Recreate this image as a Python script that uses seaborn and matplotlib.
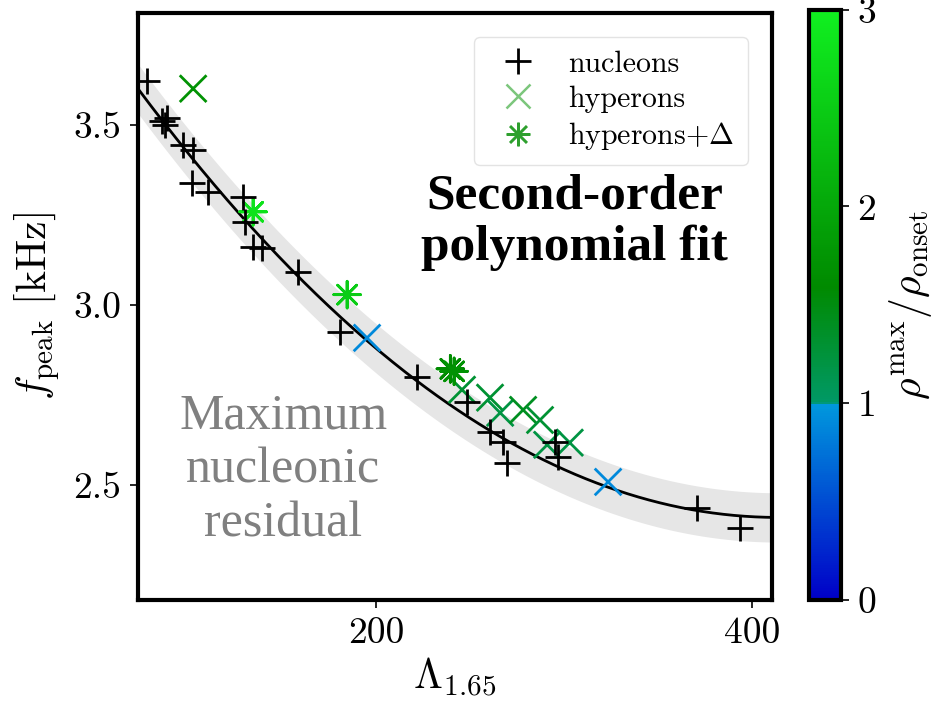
import numpy as np
import pandas as pd
import matplotlib
matplotlib.use("Agg")
import matplotlib.pyplot as plt
import seaborn as sns
from matplotlib.colors import LinearSegmentedColormap, Normalize
from matplotlib.lines import Line2D
from matplotlib.cm import ScalarMappable

# ---- data ----
nuc_lambda = [78.2, 86.2, 88.8, 87.8, 97.3, 102.7, 102.1, 110.6, 129.3, 130.3, 134.6, 139.4,
              158.5, 180.9, 221.8, 248.4, 260.6, 267.6, 269.7, 295.2, 296.8, 370.7, 393.6]
nuc_fpeak = [3.62, 3.511, 3.519, 3.50, 3.444, 3.431, 3.339, 3.314, 3.30, 3.231, 3.161, 3.158,
             3.092, 2.925, 2.80, 2.731, 2.647, 2.619, 2.561, 2.619, 2.578, 2.436, 2.381]

hyp_lambda = [102.7, 195.2, 245.7, 260.6, 266.0, 278.2, 287.2, 291.0, 303.0, 323.4]
hyp_fpeak = [3.60, 2.908, 2.764, 2.742, 2.70, 2.708, 2.68, 2.611, 2.617, 2.508]
hyp_ratio = [1.7, 0.9, 1.3, 1.3, 1.2, 1.4, 1.3, 1.2, 1.2, 0.9]

hd_lambda = [134.6, 184.6, 239.5, 241.5]
hd_fpeak = [3.258, 3.028, 2.822, 2.815]
hd_ratio = [2.8, 2.5, 1.6, 1.7]

x_ticks = [200, 400]
y_ticks = [2.5, 3.0, 3.5]
cbar_ticks = [0, 1, 2, 3]

# ---- style ----
sns.set_style("white")
plt.rcParams["font.family"] = ["serif"]
plt.rcParams["font.serif"] = ["cmr10", "DejaVu Serif"]
plt.rcParams["mathtext.fontset"] = "cm"
plt.rcParams["axes.formatter.use_mathtext"] = True
plt.rcParams["text.color"] = "black"
plt.rcParams["axes.labelcolor"] = "black"
plt.rcParams["xtick.color"] = "black"
plt.rcParams["ytick.color"] = "black"
plt.rcParams["axes.edgecolor"] = "black"

cmap = LinearSegmentedColormap.from_list(
    "rho",
    [(0.0, "#0000c8"), (0.333, "#0099dd"), (0.3334, "#009966"),
     (0.53, "#008a00"), (1.0, "#10f020")])
norm = Normalize(0, 3)

fig = plt.figure(figsize=(9.34, 7.08), dpi=100)
ax = fig.add_axes([0.1478, 0.1525, 0.6788, 0.8291])
cax = fig.add_axes([0.866, 0.1525, 0.034, 0.834])

xlim = (73.4, 410.6)
ylim = (2.18, 3.81)

# second-order polynomial fit to the nucleonic points
coef = np.polyfit(nuc_lambda, nuc_fpeak, 2)
resid = np.max(np.abs(np.array(nuc_fpeak) - np.polyval(coef, nuc_lambda)))
xf = np.linspace(xlim[0], xlim[1], 300)
yf = np.polyval(coef, xf)
ax.fill_between(xf, yf - resid, yf + resid, color="#e6e6e6", lw=0, zorder=0)
sns.lineplot(x=xf, y=yf, ax=ax, color="black", lw=2, zorder=1)

df_n = pd.DataFrame({"L": nuc_lambda, "f": nuc_fpeak})
df_h = pd.DataFrame({"L": hyp_lambda, "f": hyp_fpeak, "r": hyp_ratio})
df_d = pd.DataFrame({"L": hd_lambda, "f": hd_fpeak, "r": hd_ratio})

ms = 370
sns.scatterplot(data=df_n, x="L", y="f", ax=ax, marker="+", color="black", s=ms,
                linewidth=2.0, legend=False, zorder=3)
sns.scatterplot(data=df_h, x="L", y="f", hue="r", palette=cmap, hue_norm=norm, ax=ax,
                marker="x", s=ms, linewidth=2.0, legend=False, zorder=2)
sns.scatterplot(data=df_d, x="L", y="f", hue="r", palette=cmap, hue_norm=norm, ax=ax,
                marker=(8, 2, 0), s=ms, linewidth=2.0, legend=False, zorder=2)

ax.set_xlim(*xlim)
ax.set_ylim(*ylim)
ax.set_xticks(x_ticks)
ax.set_yticks(y_ticks)
ax.set_xticklabels([str(t) for t in x_ticks])
ax.set_yticklabels([f"{t:.1f}" for t in y_ticks])
ax.tick_params(direction="out", length=6, width=1.2, labelsize=27, pad=6,
               left=True, bottom=True, colors="black")
for sp in ax.spines.values():
    sp.set_linewidth(3)
    sp.set_color("black")
ax.set_xlabel(r"$\Lambda_{1.65}$", fontsize=30, labelpad=4, color="black")
ax.set_ylabel(r"$f_{\rm peak}$ [kHz]", fontsize=30, labelpad=8, color="black")

handles = [
    Line2D([], [], ls="none", marker="+", color="black", ms=19, mew=2),
    Line2D([], [], ls="none", marker="x", color="#7cc67c", ms=17, mew=1.8),
    Line2D([], [], ls="none", marker=(8, 2, 0), color="#2ea02e", ms=17, mew=1.8),
]
leg = ax.legend(handles, ["nucleons", "hyperons", r"hyperons$+\Delta$"],
                loc="upper right", fontsize=21.5, frameon=True, fancybox=True,
                handletextpad=0.7, borderpad=0.45, labelspacing=0.25,
                bbox_to_anchor=(0.985, 0.985))
leg.get_frame().set_edgecolor("#dddddd")
leg.get_frame().set_linewidth(1.0)
for t in leg.get_texts():
    t.set_color("black")

ax.text(0.689, 0.644, "Second-order\npolynomial fit", transform=ax.transAxes,
        ha="center", va="center", fontsize=37, fontweight="bold", color="black",
        family=["Liberation Serif"], linespacing=1.15)
ax.text(0.229, 0.221, "Maximum\nnucleonic\nresidual", transform=ax.transAxes,
        ha="center", va="center", fontsize=36, color="#808080",
        family=["Liberation Serif"], linespacing=1.2)

sm = ScalarMappable(norm=norm, cmap=cmap)
cb = fig.colorbar(sm, cax=cax)
cb.set_ticks(cbar_ticks)
cb.set_ticklabels([str(t) for t in cbar_ticks])
cb.outline.set_linewidth(3)
cb.outline.set_edgecolor("black")
cax.tick_params(labelsize=27, length=6, width=1.2, pad=6, colors="black")
cb.set_label(r"$\rho^{\rm max}/\rho_{\rm onset}$", fontsize=30, labelpad=8, color="black")

fig.savefig("out.png", dpi=100)
